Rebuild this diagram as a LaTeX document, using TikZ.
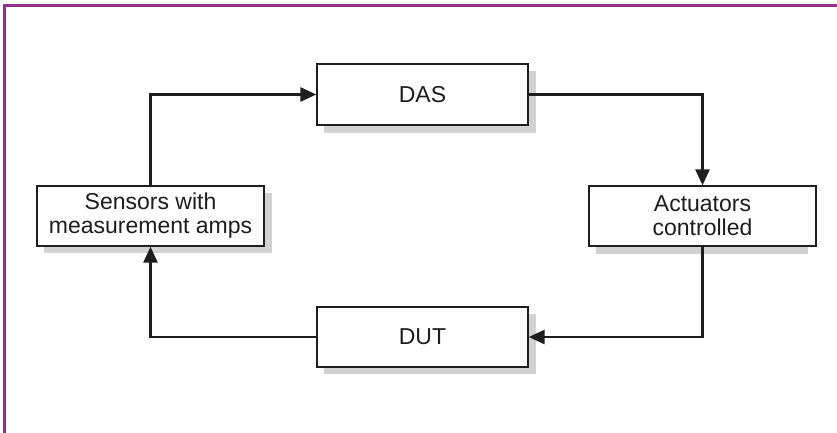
\documentclass[tikz,border=0pt]{standalone}
\usepackage{fontspec}
\setmainfont{Liberation Sans}
\usetikzlibrary{arrows.meta}
\definecolor{framepurple}{RGB}{150,45,145}
\definecolor{shadowgray}{RGB}{210,210,212}
\definecolor{inkc}{RGB}{30,30,30}
\begin{document}
\begin{tikzpicture}[x=1pt,y=-1pt,
  box/.style={draw=inkc, line width=1.4pt, fill=white, inner sep=0pt, font=\fontsize{23}{24}\selectfont, text=inkc, align=center},
  conn/.style={draw=inkc, line width=2.8pt, -{Triangle[length=16pt,width=14pt]}}]
\useasboundingbox (0,0) rectangle (837,432);
\fill[white] (0,0) rectangle (837,432);
% frame
\draw[framepurple, line width=3pt] (4,437) -- (4,5) -- (842,5);
% shadows
\fill[shadowgray] (324,71) rectangle (536,133);
\fill[shadowgray] (44,193) rectangle (272,253);
\fill[shadowgray] (596,193) rectangle (808,254);
\fill[shadowgray] (324,314) rectangle (536,374);
% boxes
\node[box, minimum width=211pt, minimum height=61pt] (das) at (422.5,94.5) {DAS};
\node[box, minimum width=227pt, minimum height=60pt] (sen) at (150.5,216) {Sensors with\\measurement amps};
\node[box, minimum width=227pt, minimum height=60pt] (act) at (702.5,216) {Actuators\\controlled};
\node[box, minimum width=211pt, minimum height=60pt] (dut) at (422.5,337) {DUT};
% connectors
\draw[conn] (sen.north) |- (das.west);
\draw[conn] (das.east) -| (act.north);
\draw[conn] (act.south) |- (dut.east);
\draw[conn] (dut.west) -| (sen.south);
\end{tikzpicture}
\end{document}
